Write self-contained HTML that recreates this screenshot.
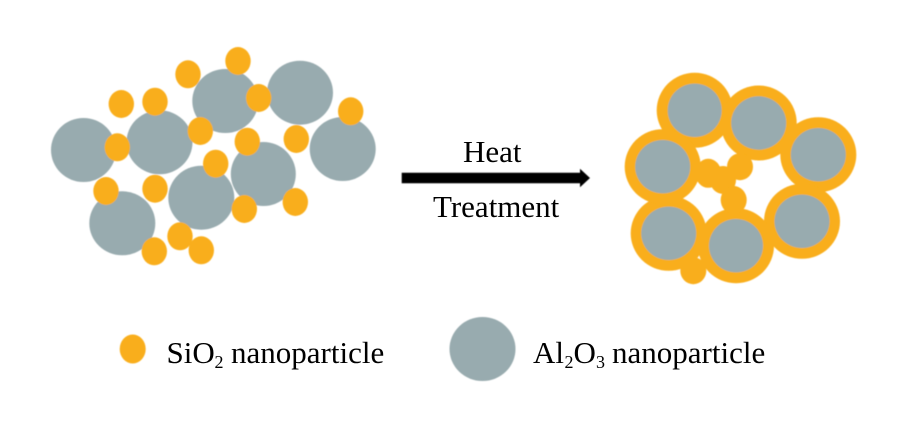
<!DOCTYPE html>
<html>
<head>
<meta charset="utf-8">
<style>
html,body{margin:0;padding:0;background:#fff;width:900px;height:442px;overflow:hidden}
svg{display:block}
text{font-family:"Liberation Serif",serif;fill:#000}
</style>
</head>
<body>
<svg width="900" height="442" viewBox="0 0 900 442" xmlns="http://www.w3.org/2000/svg">
<defs><filter id="b" x="-5%" y="-5%" width="110%" height="110%"><feGaussianBlur stdDeviation="0.4"/></filter></defs>
<g filter="url(#b)">
<g fill="#98abaf">
<ellipse cx="83.5" cy="150" rx="32.5" ry="32"/>
<ellipse cx="159.5" cy="142.3" rx="33" ry="32"/>
<ellipse cx="225.3" cy="101" rx="33" ry="32"/>
<ellipse cx="300" cy="92.7" rx="33" ry="32"/>
<ellipse cx="342.7" cy="149" rx="33" ry="32"/>
<ellipse cx="263.3" cy="174" rx="32.5" ry="32"/>
<ellipse cx="201.3" cy="197.7" rx="33" ry="32"/>
<ellipse cx="122.3" cy="223.3" rx="33" ry="32"/>
</g>
<g fill="#f9ae1a">
<ellipse cx="121.3" cy="104" rx="12.7" ry="14"/>
<ellipse cx="155" cy="101.7" rx="12.7" ry="14"/>
<ellipse cx="188" cy="74.3" rx="12.7" ry="14"/>
<ellipse cx="238" cy="61" rx="12.7" ry="14"/>
<ellipse cx="258.7" cy="98" rx="12.7" ry="14"/>
<ellipse cx="350.7" cy="111.3" rx="12.7" ry="14"/>
<ellipse cx="296.3" cy="139" rx="12.7" ry="14"/>
<ellipse cx="247.3" cy="141.7" rx="12.7" ry="14"/>
<ellipse cx="200.3" cy="131" rx="12.7" ry="14"/>
<ellipse cx="117.3" cy="147.3" rx="12.7" ry="14"/>
<ellipse cx="215.7" cy="163.7" rx="12.7" ry="14"/>
<ellipse cx="155" cy="188.7" rx="12.7" ry="14"/>
<ellipse cx="106" cy="191" rx="12.7" ry="14"/>
<ellipse cx="244.3" cy="209" rx="12.7" ry="14"/>
<ellipse cx="295.3" cy="202" rx="12.7" ry="14"/>
<ellipse cx="180" cy="236.3" rx="12.7" ry="14"/>
<ellipse cx="201.3" cy="250.3" rx="12.7" ry="14"/>
<ellipse cx="154.3" cy="251.3" rx="12.7" ry="14"/>
</g>
<g fill="#f9ae1a">
<ellipse cx="694.7" cy="110.3" rx="38" ry="37.5"/>
<ellipse cx="758.7" cy="123" rx="38" ry="37.5"/>
<ellipse cx="818.3" cy="154.7" rx="38" ry="37.5"/>
<ellipse cx="802" cy="221.3" rx="38" ry="37.5"/>
<ellipse cx="736" cy="245.7" rx="38" ry="37.5"/>
<ellipse cx="668.7" cy="233.3" rx="38" ry="37.5"/>
<ellipse cx="662.7" cy="166.7" rx="38" ry="37.5"/>
<ellipse cx="708.3" cy="173.3" rx="13" ry="14.5"/>
<ellipse cx="723" cy="180" rx="13" ry="14"/>
<ellipse cx="740" cy="166.7" rx="13" ry="13.5"/>
<ellipse cx="733.7" cy="200" rx="13" ry="14"/>
<ellipse cx="693.3" cy="270.7" rx="13" ry="13.5"/>
</g>
<g fill="#98abaf">
<ellipse cx="694.7" cy="110.3" rx="27" ry="26.7"/>
<ellipse cx="758.7" cy="123" rx="27.5" ry="26.7"/>
<ellipse cx="818.3" cy="154.7" rx="27.5" ry="26.7"/>
<ellipse cx="802" cy="221.3" rx="27.5" ry="26.7"/>
<ellipse cx="736" cy="245.7" rx="27" ry="26.7"/>
<ellipse cx="668.7" cy="233.3" rx="27.5" ry="26.7"/>
<ellipse cx="662.7" cy="166.7" rx="27.5" ry="26.7"/>
</g>
<path d="M401.7 172.7H580V168.7L590 178L580 187.3V183.3H401.7Z" fill="#000"/>
<ellipse cx="132.7" cy="349" rx="13" ry="14.5" fill="#f9ae1a"/>
<ellipse cx="482.5" cy="349" rx="33" ry="32" fill="#98abaf"/>
</g>
<text x="463" y="162" font-size="31">Heat</text>
<text x="433" y="217" font-size="31">Treatment</text>
<text x="166.5" y="363" font-size="31">SiO</text>
<text x="214.5" y="368" font-size="18">2</text>
<text x="231" y="363" font-size="31">nanoparticle</text>
<text x="533" y="363" font-size="31">Al</text>
<text x="564.5" y="368" font-size="18">2</text>
<text x="573.5" y="363" font-size="31">O</text>
<text x="596" y="368" font-size="18">3</text>
<text x="612" y="363" font-size="31">nanoparticle</text>
</svg>
</body>
</html>
